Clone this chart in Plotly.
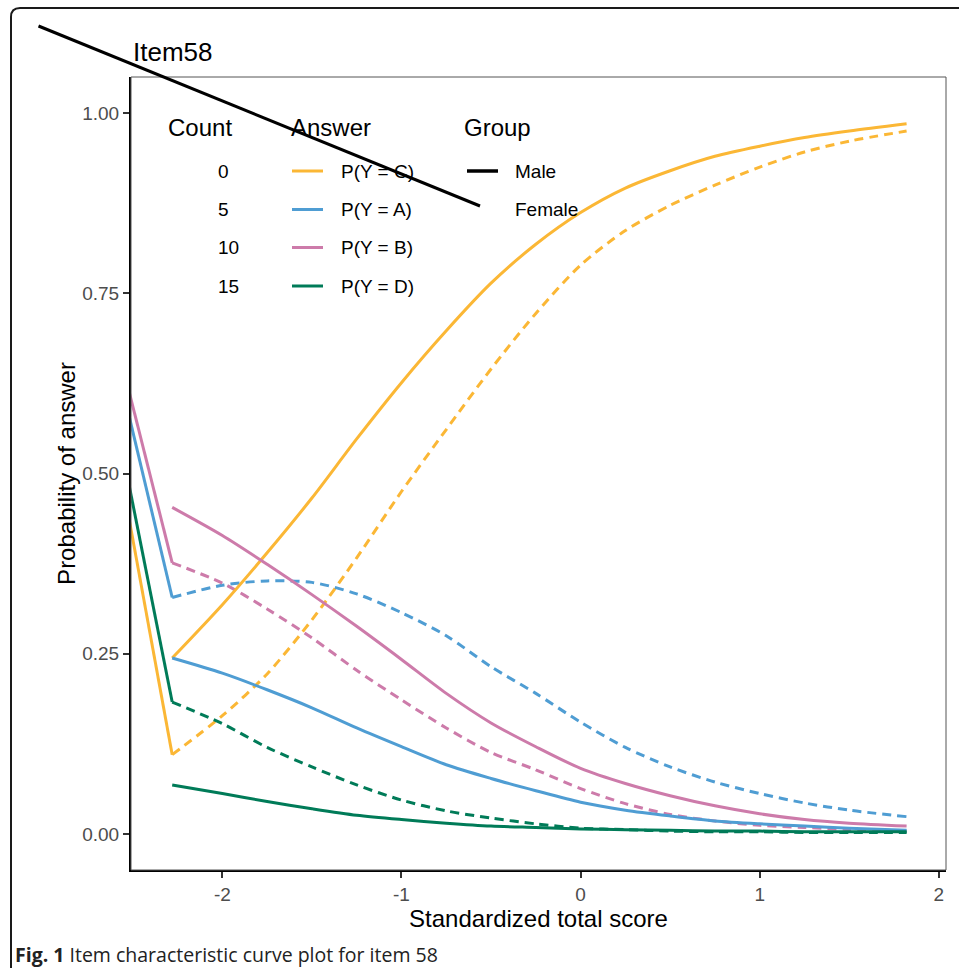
import plotly.graph_objects as go

# ---------------- data ----------------
score = [-2.28, -2.0, -1.75, -1.5, -1.25, -1.0, -0.75, -0.5, -0.25, 0.0,
         0.25, 0.5, 0.75, 1.0, 1.25, 1.5, 1.82]

male_C = [0.244, 0.318, 0.390, 0.466, 0.548, 0.626, 0.698, 0.764, 0.818, 0.862,
          0.896, 0.920, 0.940, 0.954, 0.966, 0.975, 0.985]
female_C = [0.110, 0.164, 0.222, 0.297, 0.383, 0.475, 0.561, 0.645, 0.722, 0.789,
            0.837, 0.872, 0.900, 0.925, 0.946, 0.961, 0.975]

male_A = [0.244, 0.223, 0.200, 0.175, 0.147, 0.121, 0.096, 0.077, 0.060, 0.044,
          0.033, 0.025, 0.018, 0.014, 0.011, 0.008, 0.005]
female_A = [0.328, 0.345, 0.351, 0.349, 0.333, 0.307, 0.275, 0.232, 0.195, 0.155,
            0.120, 0.093, 0.072, 0.056, 0.043, 0.033, 0.024]

male_B = [0.453, 0.414, 0.374, 0.332, 0.288, 0.242, 0.195, 0.154, 0.121, 0.091,
          0.070, 0.053, 0.039, 0.028, 0.020, 0.015, 0.011]
female_B = [0.376, 0.348, 0.312, 0.272, 0.227, 0.186, 0.147, 0.113, 0.089, 0.063,
            0.042, 0.027, 0.018, 0.012, 0.009, 0.006, 0.004]

male_D = [0.068, 0.056, 0.045, 0.035, 0.026, 0.020, 0.015, 0.011, 0.009, 0.007,
          0.006, 0.005, 0.004, 0.004, 0.003, 0.003, 0.003]
female_D = [0.183, 0.153, 0.120, 0.093, 0.068, 0.047, 0.032, 0.022, 0.014, 0.008,
            0.006, 0.004, 0.003, 0.003, 0.002, 0.002, 0.002]

# steep lead-in segments entering from beyond the left edge of the panel
lead_x = [-2.6, -2.28]
lead_C = [0.545, 0.110]
lead_A = [0.663, 0.328]
lead_B = [0.692, 0.376]
lead_D = [0.583, 0.183]

answers = ["P(Y = C)", "P(Y = A)", "P(Y = B)", "P(Y = D)"]
count_labels = ["0", "5", "10", "15"]
groups = ["Male", "Female"]
colors = ["#FBB735", "#4F9DD3", "#CD7BAA", "#007B58"]

x_ticks = [-2, -1, 0, 1, 2]
x_ticktext = ["-2", "-1", "0", "1", "2"]
y_ticks = [0, 0.25, 0.5, 0.75, 1.0]
y_ticktext = ["0.00", "0.25", "0.50", "0.75", "1.00"]

# ---------------- figure ----------------
W, H = 959, 968
ML, MR, MT, MB = 131, 13, 77, 98
PW, PH = W - ML - MR, H - MT - MB


def px(xp):
    return (xp - ML) / PW


def py(yp):
    return (H - MB - yp) / PH


FONT = "Liberation Sans, Arial, Helvetica, sans-serif"
LW = 3
fig = go.Figure()

male = [male_C, male_A, male_B, male_D]
female = [female_C, female_A, female_B, female_D]
leads = [lead_C, lead_A, lead_B, lead_D]

for name, col, lead in zip(answers, colors, leads):
    fig.add_trace(go.Scatter(x=lead_x, y=lead, mode="lines",
                             line=dict(color=col, width=LW),
                             showlegend=False, hoverinfo="skip"))
for name, col, f in zip(answers, colors, female):
    fig.add_trace(go.Scatter(x=score, y=f, mode="lines", name=name + " Female",
                             line=dict(color=col, width=LW, dash="9px,6px",
                                       shape="spline", smoothing=0.8),
                             showlegend=False))
for name, col, m in zip(answers, colors, male):
    fig.add_trace(go.Scatter(x=score, y=m, mode="lines", name=name + " Male",
                             line=dict(color=col, width=LW, shape="spline", smoothing=0.8),
                             showlegend=False))

shapes = []
annotations = []

# panel border (thin gray)
shapes.append(dict(type="rect", xref="paper", yref="paper", x0=0, x1=1, y0=0, y1=1,
                   line=dict(color="#555555", width=1), layer="above"))

# outer rounded frame
fl, ft, fr, fb, rad = 11, 8, 990, 1000, 9
path = (f"M {px(fl)},{py(fb)} L {px(fl)},{py(ft + rad)} "
        f"Q {px(fl)},{py(ft)} {px(fl + rad)},{py(ft)} L {px(fr)},{py(ft)}")
shapes.append(dict(type="path", xref="paper", yref="paper", path=path,
                   line=dict(color="#1a1a1a", width=2)))

# stray diagonal black stroke
shapes.append(dict(type="line", xref="paper", yref="paper",
                   x0=px(38.5), y0=py(26), x1=px(480), y1=py(206),
                   line=dict(color="black", width=3)))

# ---- legend (three columns) ----
row_y = [171, 209.5, 247.5, 286]
title_y = 127
for ttl, xl in zip(["Count", "Answer", "Group"], [166, 289, 462]):
    annotations.append(dict(text=ttl, x=px(xl), y=py(title_y), xref="paper", yref="paper",
                            xanchor="left", yanchor="middle", showarrow=False,
                            font=dict(size=24, color="black", family=FONT)))
for lab, yy in zip(count_labels, row_y):
    annotations.append(dict(text=lab, x=px(216), y=py(yy), xref="paper", yref="paper",
                            xanchor="left", yanchor="middle", showarrow=False,
                            font=dict(size=19, color="black", family=FONT)))
for lab, col, yy in zip(answers, colors, row_y):
    shapes.append(dict(type="line", xref="paper", yref="paper",
                       x0=px(292), x1=px(323), y0=py(yy), y1=py(yy),
                       line=dict(color=col, width=3)))
    annotations.append(dict(text=lab, x=px(339), y=py(yy), xref="paper", yref="paper",
                            xanchor="left", yanchor="middle", showarrow=False,
                            font=dict(size=19, color="black", family=FONT)))
shapes.append(dict(type="line", xref="paper", yref="paper",
                   x0=px(467), x1=px(498), y0=py(row_y[0]), y1=py(row_y[0]),
                   line=dict(color="black", width=3.5)))
for lab, yy in zip(groups, row_y[:2]):
    annotations.append(dict(text=lab, x=px(513), y=py(yy), xref="paper", yref="paper",
                            xanchor="left", yanchor="middle", showarrow=False,
                            font=dict(size=19, color="black", family=FONT)))

# caption
annotations.append(dict(text="<b>Fig. 1</b> Item characteristic curve plot for item 58",
                        x=px(13), y=py(955), xref="paper", yref="paper",
                        xanchor="left", yanchor="middle", showarrow=False,
                        font=dict(size=19.5, color="#222222",
                                  family="Open Sans, Noto Sans, sans-serif")))

fig.update_layout(
    width=W, height=H,
    margin=dict(l=ML, r=MR, t=MT, b=MB, pad=0),
    paper_bgcolor="white", plot_bgcolor="white",
    showlegend=False,
    title=dict(text="Item58", x=px(133), xref="paper", xanchor="left",
               y=1 - 52 / H, yanchor="middle",
               font=dict(size=26, color="black", family=FONT)),
    xaxis=dict(range=[-2.51, 2.04], tickvals=x_ticks, ticktext=x_ticktext,
               showgrid=False, zeroline=False, showline=True, linecolor="black",
               linewidth=2, ticks="outside", ticklen=6, tickwidth=1.5, tickcolor="#333333",
               tickfont=dict(size=19, color="#4D4D4D", family=FONT),
               title=dict(text="Standardized total score", standoff=6,
                          font=dict(size=24, color="black", family=FONT))),
    yaxis=dict(range=[-0.05, 1.05], tickvals=y_ticks, ticktext=y_ticktext,
               showgrid=False, zeroline=False, showline=True, linecolor="black",
               linewidth=2, ticks="outside", ticklen=6, tickwidth=1.5, tickcolor="#333333",
               tickfont=dict(size=19, color="#4D4D4D", family=FONT),
               title=dict(text="Probability of answer", standoff=0,
                          font=dict(size=24, color="black", family=FONT))),
    shapes=shapes,
    annotations=annotations,
)

fig.write_html("out.html", config={"displayModeBar": False})

# remove the browser's default page margin so the figure fills the window exactly
with open("out.html", "r", encoding="utf-8") as fh:
    html = fh.read()
html = html.replace("<head>", "<head><style>html,body{margin:0;padding:0;overflow:hidden;}</style>", 1)
with open("out.html", "w", encoding="utf-8") as fh:
    fh.write(html)
